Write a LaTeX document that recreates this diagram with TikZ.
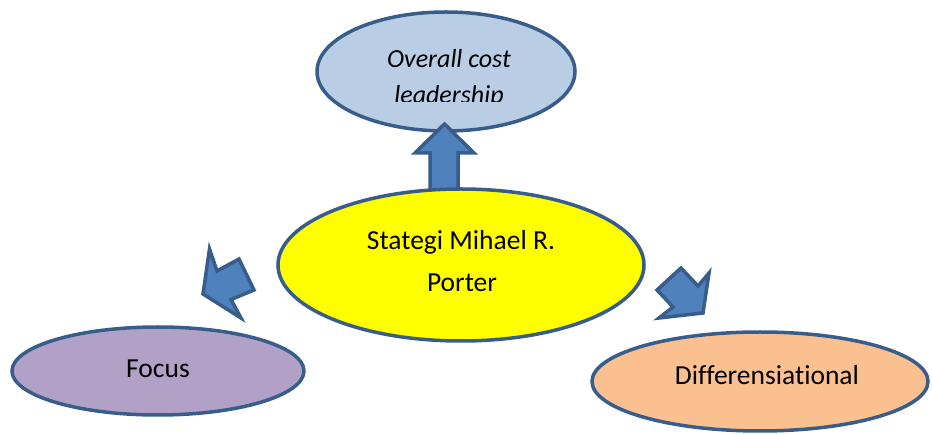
\documentclass[tikz,border=0pt]{standalone}
\usepackage{fontspec}
\setmainfont{Carlito}[Ligatures=NoCommon]
\usetikzlibrary{shapes.geometric}
\definecolor{edgeblue}{RGB}{56,93,138}
\definecolor{arrowblue}{RGB}{79,129,189}
\definecolor{leadblue}{RGB}{185,205,229}
\definecolor{focuspurple}{RGB}{178,161,199}
\definecolor{difforange}{RGB}{250,192,144}
\definecolor{porteryellow}{RGB}{255,255,0}
\tikzset{
  oval/.style={ellipse, draw=edgeblue, line width=3.5pt, inner sep=0pt},
  blockarrow/.style={draw=edgeblue, fill=arrowblue, line width=3.5pt, line join=miter},
  txt/.style={anchor=base, inner sep=0pt, font=\fontsize{27.5}{30}\selectfont},
  itxt/.style={txt, font=\fontsize{26}{30}\selectfont\itshape},
}

\begin{document}
\begin{tikzpicture}[x=1pt, y=-1pt]
    \useasboundingbox (0,0) rectangle (932,435);

    % coordinates to be reused
    \coordinate (U1) at (430,190);
    \coordinate (U2) at (430,153);
    \coordinate (U3) at (415,153);
    \coordinate (U4) at (444.5,124);
    \coordinate (U5) at (474,153);
    \coordinate (U6) at (458,153);
    \coordinate (U7) at (458,190);

    \coordinate (L1) at (239,259);
    \coordinate (L2) at (217,271);
    \coordinate (L3) at (209.5,249);
    \coordinate (L4) at (203,294);
    \coordinate (L5) at (241,318);
    \coordinate (L6) at (231,299.5);
    \coordinate (L7) at (254,290);

    \coordinate (R1) at (657,290);
    \coordinate (R2) at (681,268);
    \coordinate (R3) at (698,286);
    \coordinate (R4) at (709,273);
    \coordinate (R5) at (703,313);
    \coordinate (R6) at (659,318);
    \coordinate (R7) at (673,307);

    % draw figure
    \node [oval, fill=leadblue, minimum width=258pt, minimum height=119pt] (lead) at (446,71.5) {};
    \begin{scope}
    \clip (317,12) rectangle (575,102);
    \node [itxt] (leadA) at (449,67.5) {Overall cost};
    \node [itxt] (leadB) at (449,103.5) {leadership};
    \end{scope}
    \draw [blockarrow] (U1) -- (U2) -- (U3) -- (U4) -- (U5) -- (U6) -- (U7) -- cycle;

    \node [oval, fill=porteryellow, minimum width=366pt, minimum height=152pt] (porter) at (461,265) {};
    \draw [blockarrow] (L1) -- (L2) -- (L3) -- (L4) -- (L5) -- (L6) -- (L7) -- cycle;
    \draw [blockarrow] (R1) -- (R2) -- (R3) -- (R4) -- (R5) -- (R6) -- (R7) -- cycle;

    \node [oval, fill=focuspurple, minimum width=292pt, minimum height=88pt] (focus) at (158,371) {};
    \node [oval, fill=difforange, minimum width=336pt, minimum height=99pt] (diff) at (760,381.5) {};

    % add labels
    \node [txt] (porterA) at (461,250) {Stategi Mihael R.};
    \node [txt] (porterB) at (462,292) {Porter};
    \node [txt] (focustxt) at (158,378) {Focus};
    \node [txt] (difftxt) at (767,385) {Differensiational};
\end{tikzpicture}
\end{document}
